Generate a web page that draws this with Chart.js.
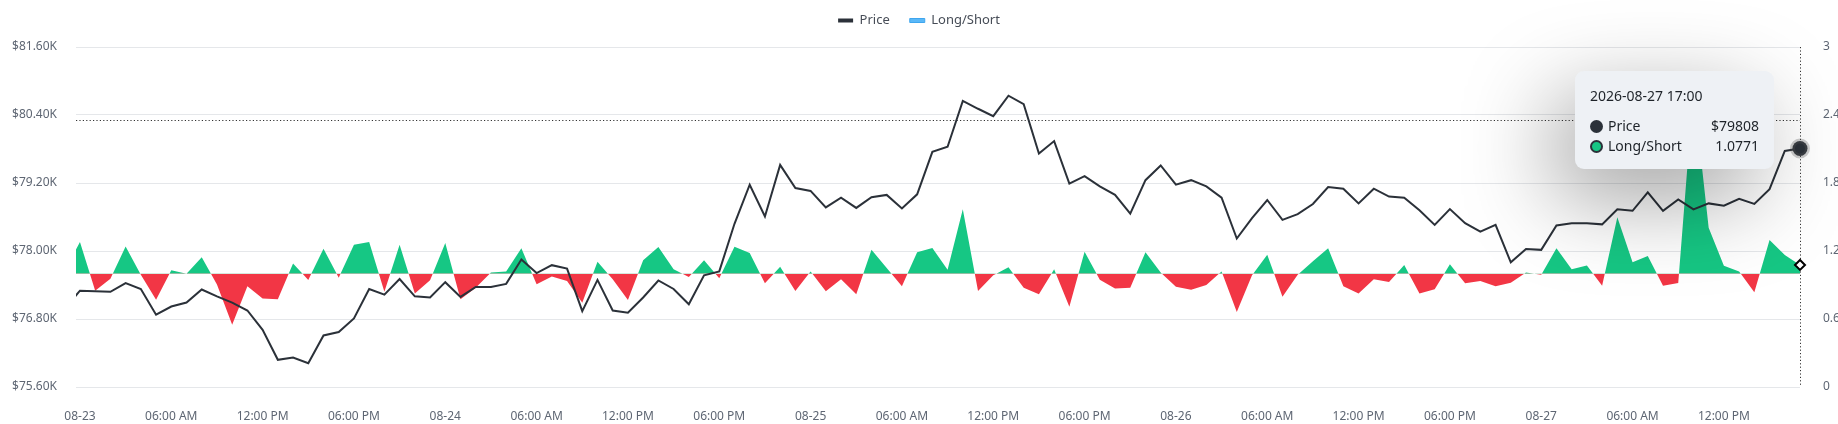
<!DOCTYPE html>
<html>
<head>
<meta charset="utf-8">
<script src="https://cdn.jsdelivr.net/npm/chart.js@4.4.1/dist/chart.umd.min.js"></script>
<style>
html,body{margin:0;padding:0;background:#fff;}
#wrap{position:relative;width:1838px;height:424px;overflow:hidden;}
#c{display:block;width:1838px;height:424px;}
#tip{position:absolute;left:0;top:0;width:169px;padding:15px 15px 13px 15px;background:#eef1f5;border-radius:9px;
  box-shadow:-20px 28px 90px rgba(0,0,0,0.38);font-family:'Noto Sans',sans-serif;font-size:14px;color:#1e2329;pointer-events:none;opacity:0;}
#tip .t{line-height:20px;margin-bottom:10px;}
#tip .r{display:flex;align-items:center;height:20px;line-height:20px;}
#tip .dot{width:13px;height:13px;border-radius:50%;box-sizing:border-box;margin-right:5px;flex:none;}
#tip .n{flex:1;}
#tip .v{text-align:right;}
</style>
</head>
<body>
<div id="wrap"><canvas id="c" width="1838" height="424"></canvas><div id="tip"></div></div>
<script>
// ---- data (hourly, first point 2026-08-22 23:00, last 2026-08-27 17:00) ----
const firstTime = '2026-08-22T23:00:00Z';
const priceValues = [
  76980, 77300, 77290, 77280, 77435, 77330, 76876, 77020, 77090, 77320,
  77200, 77090, 76950, 76610, 76080, 76120, 76020, 76510, 76570, 76810,
  77330, 77230, 77505, 77200, 77180, 77450, 77190, 77365, 77365, 77420,
  77850, 77610, 77750, 77690, 76940, 77490, 76950, 76910, 77180, 77480,
  77330, 77060, 77570, 77640, 78480, 79170, 78610, 79520, 79110, 79060,
  78770, 78940, 78760, 78950, 78990, 78750, 79000, 79750, 79840, 80650,
  80510, 80380, 80740, 80590, 79720, 79940, 79190, 79320, 79140, 78990,
  78660, 79250, 79510, 79170, 79250, 79140, 78940, 78220, 78580, 78900,
  78550, 78650, 78830, 79130, 79100, 78840, 79100, 78960, 78940, 78720,
  78460, 78740, 78490, 78340, 78460, 77800, 78035, 78020, 78450, 78490,
  78490, 78470, 78735, 78710, 79035, 78710, 78910, 78735, 78840, 78800,
  78920, 78830, 79090, 79765, 79808
];
const longShortValues = [
  1.02, 1.28, 0.85, 0.955, 1.24, 0.99, 0.77, 1.03, 1.00, 1.145,
  0.905, 0.55, 0.89, 0.78, 0.775, 1.09, 0.945, 1.22, 0.965, 1.255,
  1.28, 0.84, 1.256, 0.824, 0.941, 1.27, 0.774, 0.876, 1.01, 1.02,
  1.224, 0.906, 0.974, 0.935, 0.744, 1.106, 0.95, 0.768, 1.118, 1.235,
  1.04, 0.97, 1.118, 0.96, 1.238, 1.182, 0.915, 1.06, 0.847, 1.02,
  0.844, 0.95, 0.818, 1.21, 1.05, 0.89, 1.19, 1.226, 1.035, 1.568,
  0.847, 0.985, 1.056, 0.876, 0.818, 1.038, 0.709, 1.194, 0.947, 0.87,
  0.876, 1.19, 1.01, 0.885, 0.859, 0.90, 1.02, 0.662, 0.985, 1.168,
  0.797, 0.99, 1.11, 1.224, 0.89, 0.826, 0.95, 0.926, 1.076, 0.824,
  0.862, 1.082, 0.915, 0.935, 0.888, 0.92, 1.01, 0.99, 1.224, 1.04,
  1.073, 0.894, 1.497, 1.10, 1.156, 0.894, 0.917, 2.62, 1.406, 1.07,
  1.02, 0.835, 1.297, 1.165, 1.0771
];
const xTickLabels = [
  '08-23', '06:00 AM', '12:00 PM', '06:00 PM',
  '08-24', '06:00 AM', '12:00 PM', '06:00 PM',
  '08-25', '06:00 AM', '12:00 PM', '06:00 PM',
  '08-26', '06:00 AM', '12:00 PM', '06:00 PM',
  '08-27', '06:00 AM', '12:00 PM'
];
const tickStepHours = 6;
const priceTicks = [75600, 76800, 78000, 79200, 80400, 81600];
const ratioTicks = [0, 0.6, 1.2, 1.8, 2.4, 3];
const ratioBaseline = 1;
const cursorPrice = 80310;   // mouse position (horizontal crosshair)

// ---- helpers ----
const t0 = Date.parse(firstTime);
const hourOffset = 1; // index 0 is one hour before 08-23 00:00
function hourOf(i){ return i - hourOffset; }
function timeLabel(i){
  const d = new Date(t0 + i*3600000);
  const p = n => String(n).padStart(2,'0');
  return d.getUTCFullYear()+'-'+p(d.getUTCMonth()+1)+'-'+p(d.getUTCDate())+' '+p(d.getUTCHours())+':00';
}
const pricePts = priceValues.map((v,i)=>({x:hourOf(i), y:v}));
const ratioPts = longShortValues.map((v,i)=>({x:hourOf(i), y:v}));

const FONT = "'Noto Sans', sans-serif";
const GREEN = '#16c784', RED = '#f23645', DARK = '#2b3139';
const CLIP = {left:0, top:0, right:14, bottom:0};

const legendSpacing = {
  id:'legendSpacing',
  beforeInit(chart){
    const fit = chart.legend.fit;
    chart.legend.fit = function(){ fit.call(this); this.height = 53; };
  }
};

const crosshair = {
  id:'crosshair',
  beforeDatasetsDraw(chart){
    const {ctx, chartArea:a, scales} = chart;
    const last = pricePts.length-1;
    const x = scales.x.getPixelForValue(pricePts[last].x);
    const y = scales.y.getPixelForValue(cursorPrice);
    ctx.save();
    ctx.strokeStyle = '#333';
    ctx.lineWidth = 1;
    ctx.setLineDash([1.2,2.2]);
    ctx.beginPath();
    ctx.moveTo(a.left, Math.round(y)+0.5); ctx.lineTo(a.right, Math.round(y)+0.5);
    ctx.moveTo(Math.round(x)+0.5, a.top); ctx.lineTo(Math.round(x)+0.5, a.bottom);
    ctx.stroke();
    ctx.restore();
  }
};

const tipEl = document.getElementById('tip');
function externalTip(context){
  const {chart, tooltip} = context;
  if (tooltip.opacity === 0){ tipEl.style.opacity = 0; return; }
  const i = tooltip.dataPoints[0].dataIndex;
  tipEl.innerHTML =
    '<div class="t">'+timeLabel(i)+'</div>'+
    '<div class="r"><span class="dot" style="background:'+DARK+'"></span><span class="n">Price</span><span class="v">$'+priceValues[i]+'</span></div>'+
    '<div class="r"><span class="dot" style="background:'+GREEN+';border:2px solid '+DARK+'"></span><span class="n">Long/Short</span><span class="v">'+longShortValues[i].toFixed(4)+'</span></div>';
  const cx = chart.scales.x.getPixelForValue(pricePts[i].x);
  const cy = chart.scales.y.getPixelForValue(cursorPrice);
  tipEl.style.opacity = 1;
  tipEl.style.left = (cx - 26 - tipEl.offsetWidth) + 'px';
  tipEl.style.top = (cy - tipEl.offsetHeight/2) + 'px';
}

const chart = new Chart(document.getElementById('c'), {
  type:'line',
  data:{
    datasets:[
      {
        label:'Price', data:pricePts, yAxisID:'y', clip:CLIP,
        borderColor:DARK, borderWidth:2, tension:0, fill:false,
        pointRadius:0, pointHoverRadius:7.5, pointHoverBackgroundColor:DARK,
        pointHoverBorderColor:'rgba(90,90,90,0.3)', pointHoverBorderWidth:5
      },
      {
        label:'Long/Short', data:ratioPts, yAxisID:'y1', clip:CLIP,
        borderColor:'transparent', borderWidth:0, tension:0,
        backgroundColor:GREEN,
        fill:{target:{value:ratioBaseline}, above:GREEN, below:RED},
        pointRadius:0, pointStyle:'rectRot', pointHoverRadius:5,
        pointHoverBackgroundColor:'#ffffff', pointHoverBorderColor:'#000', pointHoverBorderWidth:2
      }
    ]
  },
  options:{
    responsive:false, animation:false, devicePixelRatio:1,
    layout:{padding:{top:-6,left:0,right:0,bottom:0}},
    interaction:{mode:'index', intersect:false},
    plugins:{
      legend:{
        position:'top', align:'center',
        labels:{
          font:{family:FONT,size:13}, color:'#474d57', boxWidth:15, boxHeight:4, padding:20,
          generateLabels(){
            return [
              {text:'Price', fillStyle:DARK, strokeStyle:DARK, lineWidth:0, datasetIndex:0, fontColor:'#474d57'},
              {text:'Long/Short', fillStyle:'#5ab8f8', strokeStyle:'#3fa6ee', lineWidth:1, datasetIndex:1, fontColor:'#474d57'}
            ];
          }
        }
      },
      tooltip:{enabled:false, external:externalTip}
    },
    scales:{
      x:{
        type:'linear', min:-0.26, max:pricePts[pricePts.length-1].x,
        grid:{display:false}, border:{display:false},
        afterBuildTicks(s){ s.ticks = xTickLabels.map((l,k)=>({value:k*tickStepHours})); },
        afterFit(s){ s.height = 37; },
        ticks:{
          autoSkip:false, maxRotation:0, padding:14,
          font:{family:FONT,size:12}, color:'#5e6673',
          callback(v){ return xTickLabels[Math.round(v/tickStepHours)]; }
        }
      },
      y:{
        position:'left', min:priceTicks[0], max:priceTicks[priceTicks.length-1],
        grid:{color:'#e5e7ea', drawTicks:false}, border:{display:false},
        afterBuildTicks(s){ s.ticks = priceTicks.map(v=>({value:v})); },
        afterFit(s){ s.width = 76; },
        ticks:{
          padding:19, font:{family:FONT,size:12}, color:'#5e6673',
          callback(v){ return '$'+(v/1000).toFixed(2)+'K'; }
        }
      },
      y1:{
        position:'right', min:ratioTicks[0], max:ratioTicks[ratioTicks.length-1],
        grid:{display:false}, border:{display:false},
        afterBuildTicks(s){ s.ticks = ratioTicks.map(v=>({value:v})); },
        afterFit(s){ s.width = 38; },
        ticks:{
          padding:15, font:{family:FONT,size:12}, color:'#5e6673',
          callback(v){ return String(v); }
        }
      }
    }
  },
  plugins:[legendSpacing, crosshair]
});

const last = pricePts.length-1;
const active = [{datasetIndex:0,index:last},{datasetIndex:1,index:last}];
chart.setActiveElements(active);
chart.tooltip.setActiveElements(active, {x:chart.scales.x.getPixelForValue(pricePts[last].x), y:chart.scales.y.getPixelForValue(cursorPrice)});
chart.update();
</script>
</body>
</html>
